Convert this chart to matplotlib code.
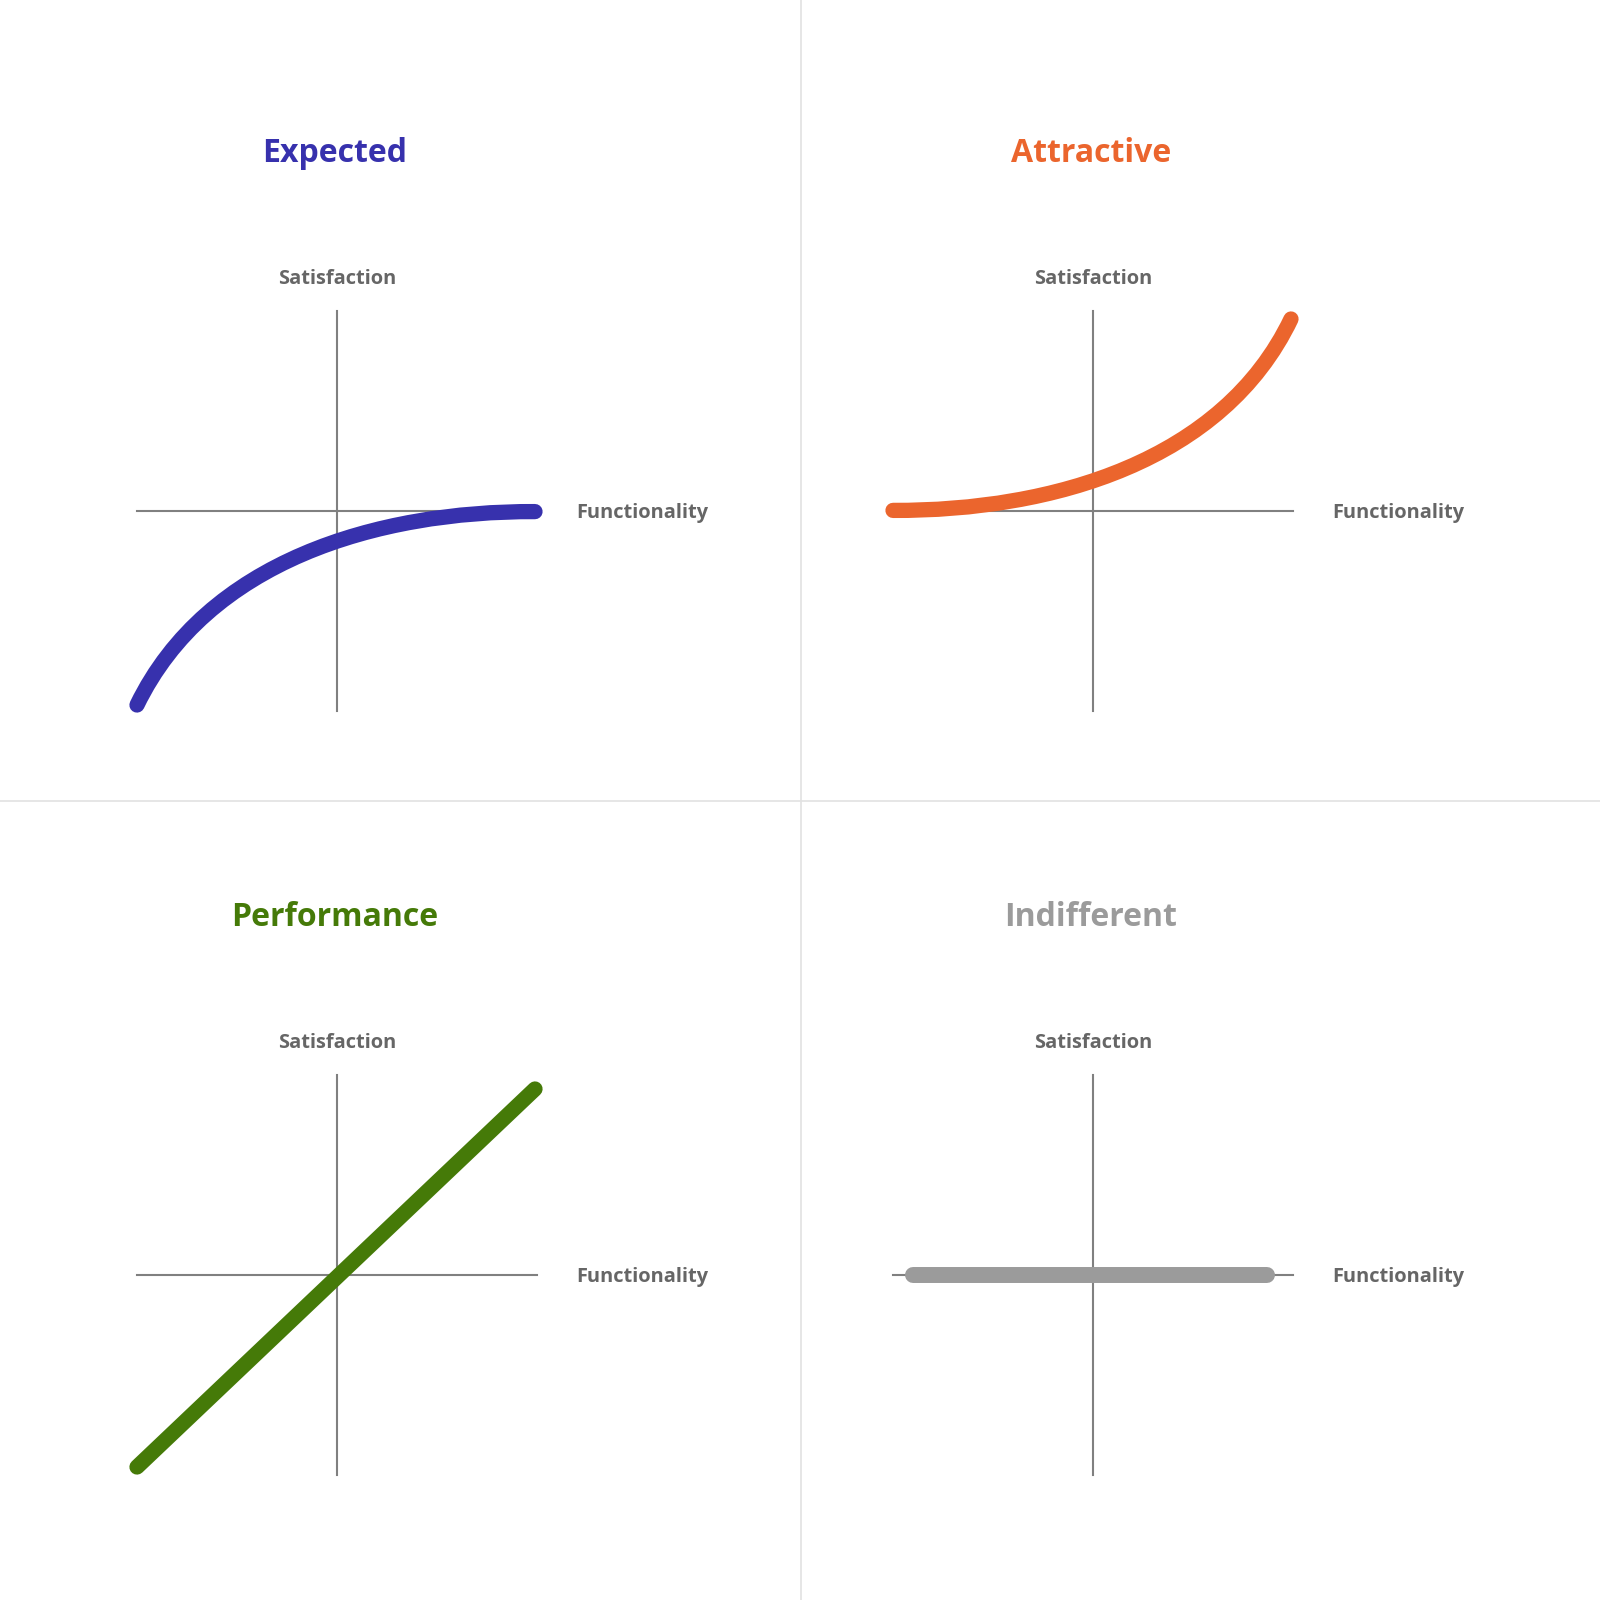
import matplotlib
matplotlib.use("Agg")
import matplotlib.pyplot as plt
from matplotlib.lines import Line2D
from matplotlib.path import Path
from matplotlib.patches import PathPatch

plt.rcParams['font.family'] = ['Open Sans', 'DejaVu Sans']

# Kano model categories
titles = ["Expected", "Attractive", "Performance", "Indifferent"]
colors = ["#3731AD", "#EB652D", "#457A08", "#9B9B9B"]

# functionality (x) vs satisfaction (y), both in -1..1
# the two curved ones are cubic curves: start, 2 control points, end
x_expected = [-1.0, -0.65, 0.2, 0.99]
y_expected = [-0.97, -0.25, 0.0, -0.003]
x_attractive = [-1.0, -0.2, 0.65, 0.99]
y_attractive = [0.003, 0.0, 0.25, 0.96]
x_performance = [-1.0, 0.99]
y_performance = [-0.96, 0.93]
x_indifferent = [-0.9, 0.87]
y_indifferent = [0.0, 0.0]

series = [(x_expected, y_expected), (x_attractive, y_attractive),
          (x_performance, y_performance), (x_indifferent, y_indifferent)]

# panel centres in pixels (from top-left), 200 px = 1 unit
centres = [(337, 511), (1093, 511), (337, 1275), (1093, 1275)]

W = 1600
fig = plt.figure(figsize=(16, 16), dpi=100)
fig.patch.set_facecolor("white")

# light grid dividing the four panels
fig.add_artist(Line2D([801 / W, 801 / W], [0, 1], color="#e2e2e2", lw=1.2))
fig.add_artist(Line2D([0, 1], [1 - 801 / W, 1 - 801 / W], color="#e2e2e2", lw=1.2))

for i in range(4):
    cx, cy = centres[i]
    ax = fig.add_axes([(cx - 200) / W, (W - cy - 200) / W, 400 / W, 400 / W])
    ax.set_xlim(-1, 1)
    ax.set_ylim(-1, 1)
    ax.axis("off")

    # axes cross
    ax.plot([-1, 1], [0, 0], color="#808080", lw=1.5, clip_on=False, zorder=1)
    ax.plot([0, 0], [-1, 1], color="#808080", lw=1.5, clip_on=False, zorder=1)

    xs, ys = series[i]
    if len(xs) == 4:
        codes = [Path.MOVETO, Path.CURVE4, Path.CURVE4, Path.CURVE4]
        p = PathPatch(Path(list(zip(xs, ys)), codes), fill=False,
                      edgecolor=colors[i], lw=11, capstyle="round",
                      joinstyle="round", clip_on=False, zorder=3)
        ax.add_patch(p)
    else:
        lw = 11.5 if i == 3 else 11
        ax.plot(xs, ys, color=colors[i], lw=lw, solid_capstyle="round",
                clip_on=False, zorder=3)

    ax.text(-0.01, 1.785, titles[i], color=colors[i], fontsize=23,
            fontweight="bold", ha="center", va="center")
    ax.text(0, 1.16, "Satisfaction", color="#666666", fontsize=14.4,
            fontweight="bold", ha="center", va="center")
    ax.text(1.195, -0.01, "Functionality", color="#666666", fontsize=14.4,
            fontweight="bold", ha="left", va="center")

fig.savefig("out.png", dpi=100, facecolor="white")
